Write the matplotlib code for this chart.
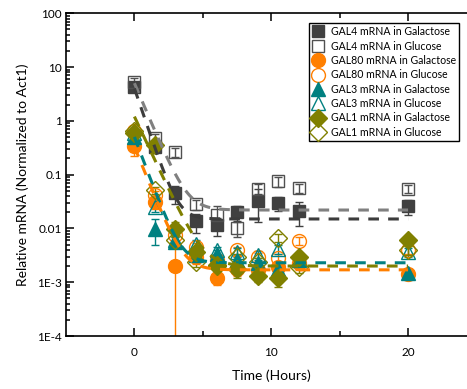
import numpy as np
import matplotlib
matplotlib.use("Agg")
import matplotlib.pyplot as plt
from matplotlib.ticker import FixedLocator, FixedFormatter, LogLocator, NullFormatter

plt.rcParams['font.family'] = ['Lato', 'DejaVu Sans']
plt.rcParams['font.size'] = 8.5

# sampling times (hours)
hours = [0, 1.5, 3, 4.5, 6, 7.5, 9, 10.5, 12, 20]

# relative mRNA, with error bar half-widths
gal4_gal = [4.2, 0.33, 0.045, 0.0135, 0.0115, 0.020, 0.033, 0.030, 0.021, 0.026]
gal4_gal_err = [0.6, 0.06, 0.016, 0.0054, 0.0043, 0.006, 0.02, 0.009, 0.010, 0.008]
gal4_glu = [5.3, 0.48, 0.26, 0.028, 0.018, 0.010, 0.055, 0.075, 0.056, 0.055]
gal4_glu_err = [1.0, 0.08, 0.05, 0.006, 0.008, 0.003, 0.012, 0.015, 0.010, 0.010]
gal80_gal = [0.34, 0.031, 0.0020, 0.0030, 0.0012, 0.0018, 0.0017, 0.0019, 0.0023, 0.0014]
gal80_gal_err = [0.12, 0.008, 0.0055, 0.0008, 0.0003, 0.0005, 0.0004, 0.0005, 0.0006, 0.0003]
gal80_glu = [0.65, 0.042, 0.0074, 0.0045, 0.0026, 0.0039, 0.0030, 0.0028, 0.0059, 0.0040]
gal80_glu_err = [0.10, 0.008, 0.0015, 0.0008, 0.0005, 0.0007, 0.0005, 0.0005, 0.0010, 0.0007]
gal3_gal = [0.50, 0.0099, 0.0056, 0.0032, 0.0034, 0.0026, 0.0023, 0.0018, 0.0026, 0.0015]
gal3_gal_err = [0.08, 0.005, 0.0012, 0.0007, 0.0006, 0.0005, 0.0005, 0.0004, 0.0005, 0.0003]
gal3_glu = [0.60, 0.025, 0.0060, 0.0052, 0.0039, 0.0037, 0.0032, 0.0042, 0.0027, 0.0036]
gal3_glu_err = [0.08, 0.005, 0.0012, 0.0009, 0.0007, 0.0007, 0.0006, 0.0008, 0.0005, 0.0007]
gal1_gal = [0.60, 0.35, 0.0099, 0.0036, 0.0020, 0.0018, 0.0013, 0.0012, 0.0029, 0.0062]
gal1_gal_err = [0.08, 0.06, 0.003, 0.0008, 0.0004, 0.0006, 0.0003, 0.0004, 0.0006, 0.0010]
gal1_glu = [0.65, 0.051, 0.0060, 0.0024, 0.0021, 0.0029, 0.0024, 0.0067, 0.0019, 0.0040]
gal1_glu_err = [0.08, 0.008, 0.0012, 0.0005, 0.0004, 0.0005, 0.0004, 0.0012, 0.0004, 0.0008]

# exponential decay fits: start amplitude, rate (1/h), floor
fit_colors = ['#808080', '#3c3c3c', '#008080', '#808000', '#ff7f00']
fit_amp = [5.0, 4.0, 0.5, 1.2, 0.33]
fit_rate = [1.38, 1.72, 1.55, 1.25, 1.45]
fit_floor = [0.022, 0.015, 0.0023, 0.0020, 0.0017]

series = [
    ('GAL4 mRNA in Galactose', gal4_gal, gal4_gal_err, 's', '#404040', True),
    ('GAL4 mRNA in Glucose', gal4_glu, gal4_glu_err, 's', '#505050', False),
    ('GAL80 mRNA in Galactose', gal80_gal, gal80_gal_err, 'o', '#ff7f00', True),
    ('GAL80 mRNA in Glucose', gal80_glu, gal80_glu_err, 'o', '#ff7f00', False),
    ('GAL3 mRNA in Galactose', gal3_gal, gal3_gal_err, '^', '#008080', True),
    ('GAL3 mRNA in Glucose', gal3_glu, gal3_glu_err, '^', '#008080', False),
    ('GAL1 mRNA in Galactose', gal1_gal, gal1_gal_err, 'D', '#808000', True),
    ('GAL1 mRNA in Glucose', gal1_glu, gal1_glu_err, 'D', '#808000', False),
]
marker_size = {'s': 8.5, 'o': 10, '^': 10, 'D': 9.5}

fig = plt.figure(figsize=(4.67, 3.89), dpi=100)
ax = fig.add_axes([0.1413, 0.1362, 0.879, 0.8296])
ax.set_yscale('log')

for label, vals, errs, mk, col, filled in series:
    ax.errorbar(hours, vals, yerr=errs, fmt='none', ecolor=col, elinewidth=1.0,
                capsize=3, capthick=1.0, zorder=2)
    ax.plot(hours, vals, linestyle='none', marker=mk, markersize=marker_size[mk],
            markerfacecolor=col if filled else 'none', markeredgecolor=col,
            markeredgewidth=1.0, label=label, zorder=3)

t_fit = np.linspace(0, 20, 400)
for col, a, k, c in zip(fit_colors, fit_amp, fit_rate, fit_floor):
    ax.plot(t_fit, a * np.exp(-k * t_fit) + c, color=col, linewidth=2.2,
            dashes=(3.5, 3), zorder=4)

ax.set_xlim(-5, 25)
ax.set_ylim(1e-4, 100)

ax.xaxis.set_major_locator(FixedLocator([0, 10, 20]))
ax.xaxis.set_minor_locator(FixedLocator([5, 15]))
ax.yaxis.set_major_locator(FixedLocator([1e-4, 1e-3, 1e-2, 1e-1, 1, 10, 100]))
ax.yaxis.set_major_formatter(FixedFormatter(['1E-4', '1E-3', '0.01', '0.1', '1', '10', '100']))
ax.yaxis.set_minor_locator(LogLocator(base=10, subs=np.arange(2, 10)))
ax.yaxis.set_minor_formatter(NullFormatter())
ax.tick_params(axis='x', which='both', direction='in', top=True, width=1.1)
ax.tick_params(axis='x', which='major', length=6, pad=8)
ax.tick_params(axis='x', which='minor', length=3.5)
ax.tick_params(axis='y', which='both', direction='in', right=False, width=1.1)
ax.tick_params(axis='y', which='major', length=6, pad=3)
ax.tick_params(axis='y', which='minor', length=3)
for s in ax.spines.values():
    s.set_linewidth(1.2)

ax.set_xlabel('Time (Hours)', fontsize=10, labelpad=8)
ax.set_ylabel('Relative mRNA (Normalized to Act1)', fontsize=10, labelpad=6)

leg = ax.legend(loc='upper right', bbox_to_anchor=(0.957, 0.970), fontsize=7.6,
                frameon=True, fancybox=False, framealpha=1, handlelength=1.1,
                handletextpad=0.6, labelspacing=0.32, borderpad=0.3, borderaxespad=0)
leg.get_frame().set_edgecolor('black')
leg.get_frame().set_linewidth(1.0)

fig.savefig('out.png', dpi=100)
